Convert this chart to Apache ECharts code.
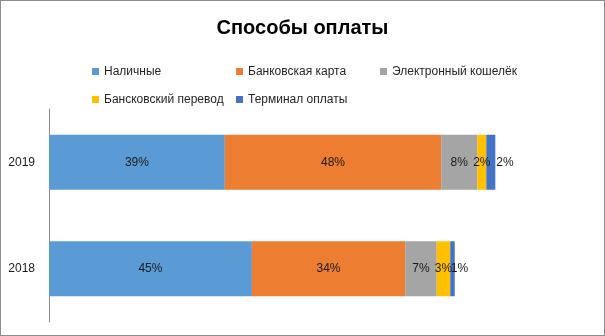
<!DOCTYPE html>
<html><head><meta charset="utf-8">
<script src="https://cdn.jsdelivr.net/npm/echarts@6/dist/echarts.min.js"></script>
<style>
html,body{margin:0;padding:0;background:#fff;}
#wrap{width:605px;height:336px;box-sizing:border-box;border:1px solid #8c8c8c;background:#fff;}
#chart{width:603px;height:334px;}
</style></head>
<body><div id="wrap"><div id="chart"></div></div>
<script>
const titleText = 'Способы оплаты';
const categories = ['2018', '2019'];
const seriesNames = ['Наличные', 'Банковская карта', 'Электронный кошелёк', 'Бансковский перевод', 'Терминал оплаты'];
const cash = [45, 39];
const bankCard = [34, 48];
const eWallet = [7, 8];
const bankTransfer = [3, 2];
const terminal = [1, 2];

const colors = ['#5b9bd5', '#ed7d31', '#a5a5a5', '#ffc000', '#4472c4'];
const font = 'Liberation Sans, Arial, sans-serif';
const valueSets = [cash, bankCard, eWallet, bankTransfer, terminal];

const series = valueSets.map((vals, si) => {
  const last = si === valueSets.length - 1;
  return {
    name: seriesNames[si],
    type: 'bar',
    stack: 'total',
    barWidth: 55,
    itemStyle: { color: colors[si] },
    label: {
      show: true,
      position: last ? 'right' : 'inside',
      distance: 1,
      formatter: '{c}%',
      color: '#1a1a1a',
      fontFamily: font,
      fontSize: 12
    },
    data: vals.map((v, i) => last && i === 0 ? { value: v, label: { distance: -4 } } : v)
  };
});

const chart = echarts.init(document.getElementById('chart'));
chart.setOption({
  animation: false,
  title: {
    text: titleText,
    left: 'center',
    top: 17,
    padding: 0,
    textStyle: { fontFamily: font, fontSize: 20, fontWeight: 'bold', color: '#000' }
  },
  legend: {
    data: seriesNames,
    left: 91,
    top: 60,
    padding: 0,
    width: 440,
    itemWidth: 7,
    itemHeight: 7,
    itemGap: 7,
    icon: 'rect',
    textStyle: { fontFamily: font, fontSize: 12, color: '#262626', width: 125, lineHeight: 21, overflow: 'none' }
  },
  grid: { left: 48, right: 14, top: 108, bottom: 13, containLabel: false },
  xAxis: {
    type: 'value', min: 0, max: 120, show: false
  },
  yAxis: {
    type: 'category',
    data: categories,
    axisLine: { lineStyle: { color: '#8c8c8c' } },
    axisTick: { show: false },
    axisLabel: { margin: 14, fontFamily: font, fontSize: 12, color: '#1a1a1a' }
  },
  series: series
});
</script></body></html>
